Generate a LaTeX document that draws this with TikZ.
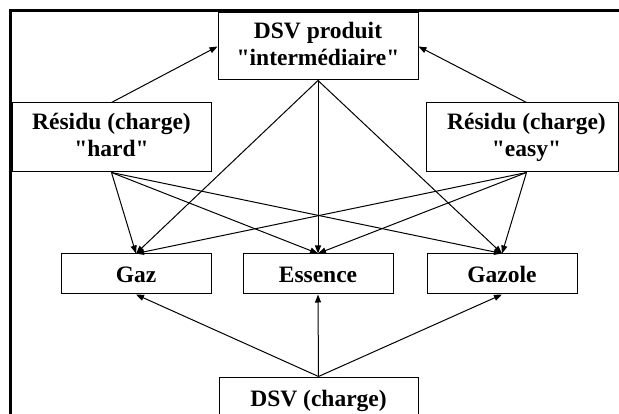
\documentclass[tikz,border=0pt]{standalone}
\usepackage{fontspec}
\setmainfont{Liberation Serif}[Ligatures=TeXOff]
\usetikzlibrary{arrows.meta}
\begin{document}
\begin{tikzpicture}[x=1pt,y=-1pt,
  box/.style={draw, line width=1pt, font=\fontsize{23.5}{27}\selectfont\bfseries,
    align=center, inner sep=0pt},
  onebox/.style={box, text height=18pt, text depth=0pt},
  link/.style={line width=1pt, -{Triangle[length=8pt,width=6pt]}}]
\useasboundingbox (0,0) rectangle (619,414);

% outer frame (left and top sides)
\draw[line width=3pt] (10,416) -- (10,11) -- (622,11);

% product and feed boxes
\node[box, minimum width=200pt, minimum height=67pt] (dsvp) at (318,46.5)
  {DSV produit\\"intermédiaire"\vphantom{y}};
\node[box, minimum width=199pt, minimum height=69pt] (hard) at (111.5,137.5)
  {Résidu (charge)\\"hard"\vphantom{y}};
\node[box, draw=none, minimum width=199pt, minimum height=69pt] (easy) at (526.5,137.5)
  {Résidu (charge)\\"easy"};
\draw[line width=1pt] (easy.north west) rectangle (618,172);

\node[onebox, minimum width=150pt, minimum height=40pt] (gaz) at (136,274) {Gaz};
\node[onebox, minimum width=150pt, minimum height=40pt] (ess) at (318,274) {Essence};
\node[onebox, minimum width=150pt, minimum height=40pt] (gazole) at (502,274) {Gazole};
\node[onebox, minimum width=199pt, minimum height=40pt] (dsvc) at (318.5,397) {DSV (charge)};

% residues to intermediate product
\draw[link] (hard.north) -- (dsvp.west);
\draw[link] (easy.north) -- (dsvp.east);

% everything to the final products
\foreach \src in {dsvp, hard, easy}{
  \draw[link] (\src.south) -- (gaz.north);
  \draw[link] (\src.south) -- (ess.north);
  \draw[link] (\src.south) -- (gazole.north);
}
\draw[link] (dsvc.north) -- (gaz.south);
\draw[link] (dsvc.north) -- (ess.south);
\draw[link] (dsvc.north) -- (gazole.south);
\end{tikzpicture}
\end{document}
